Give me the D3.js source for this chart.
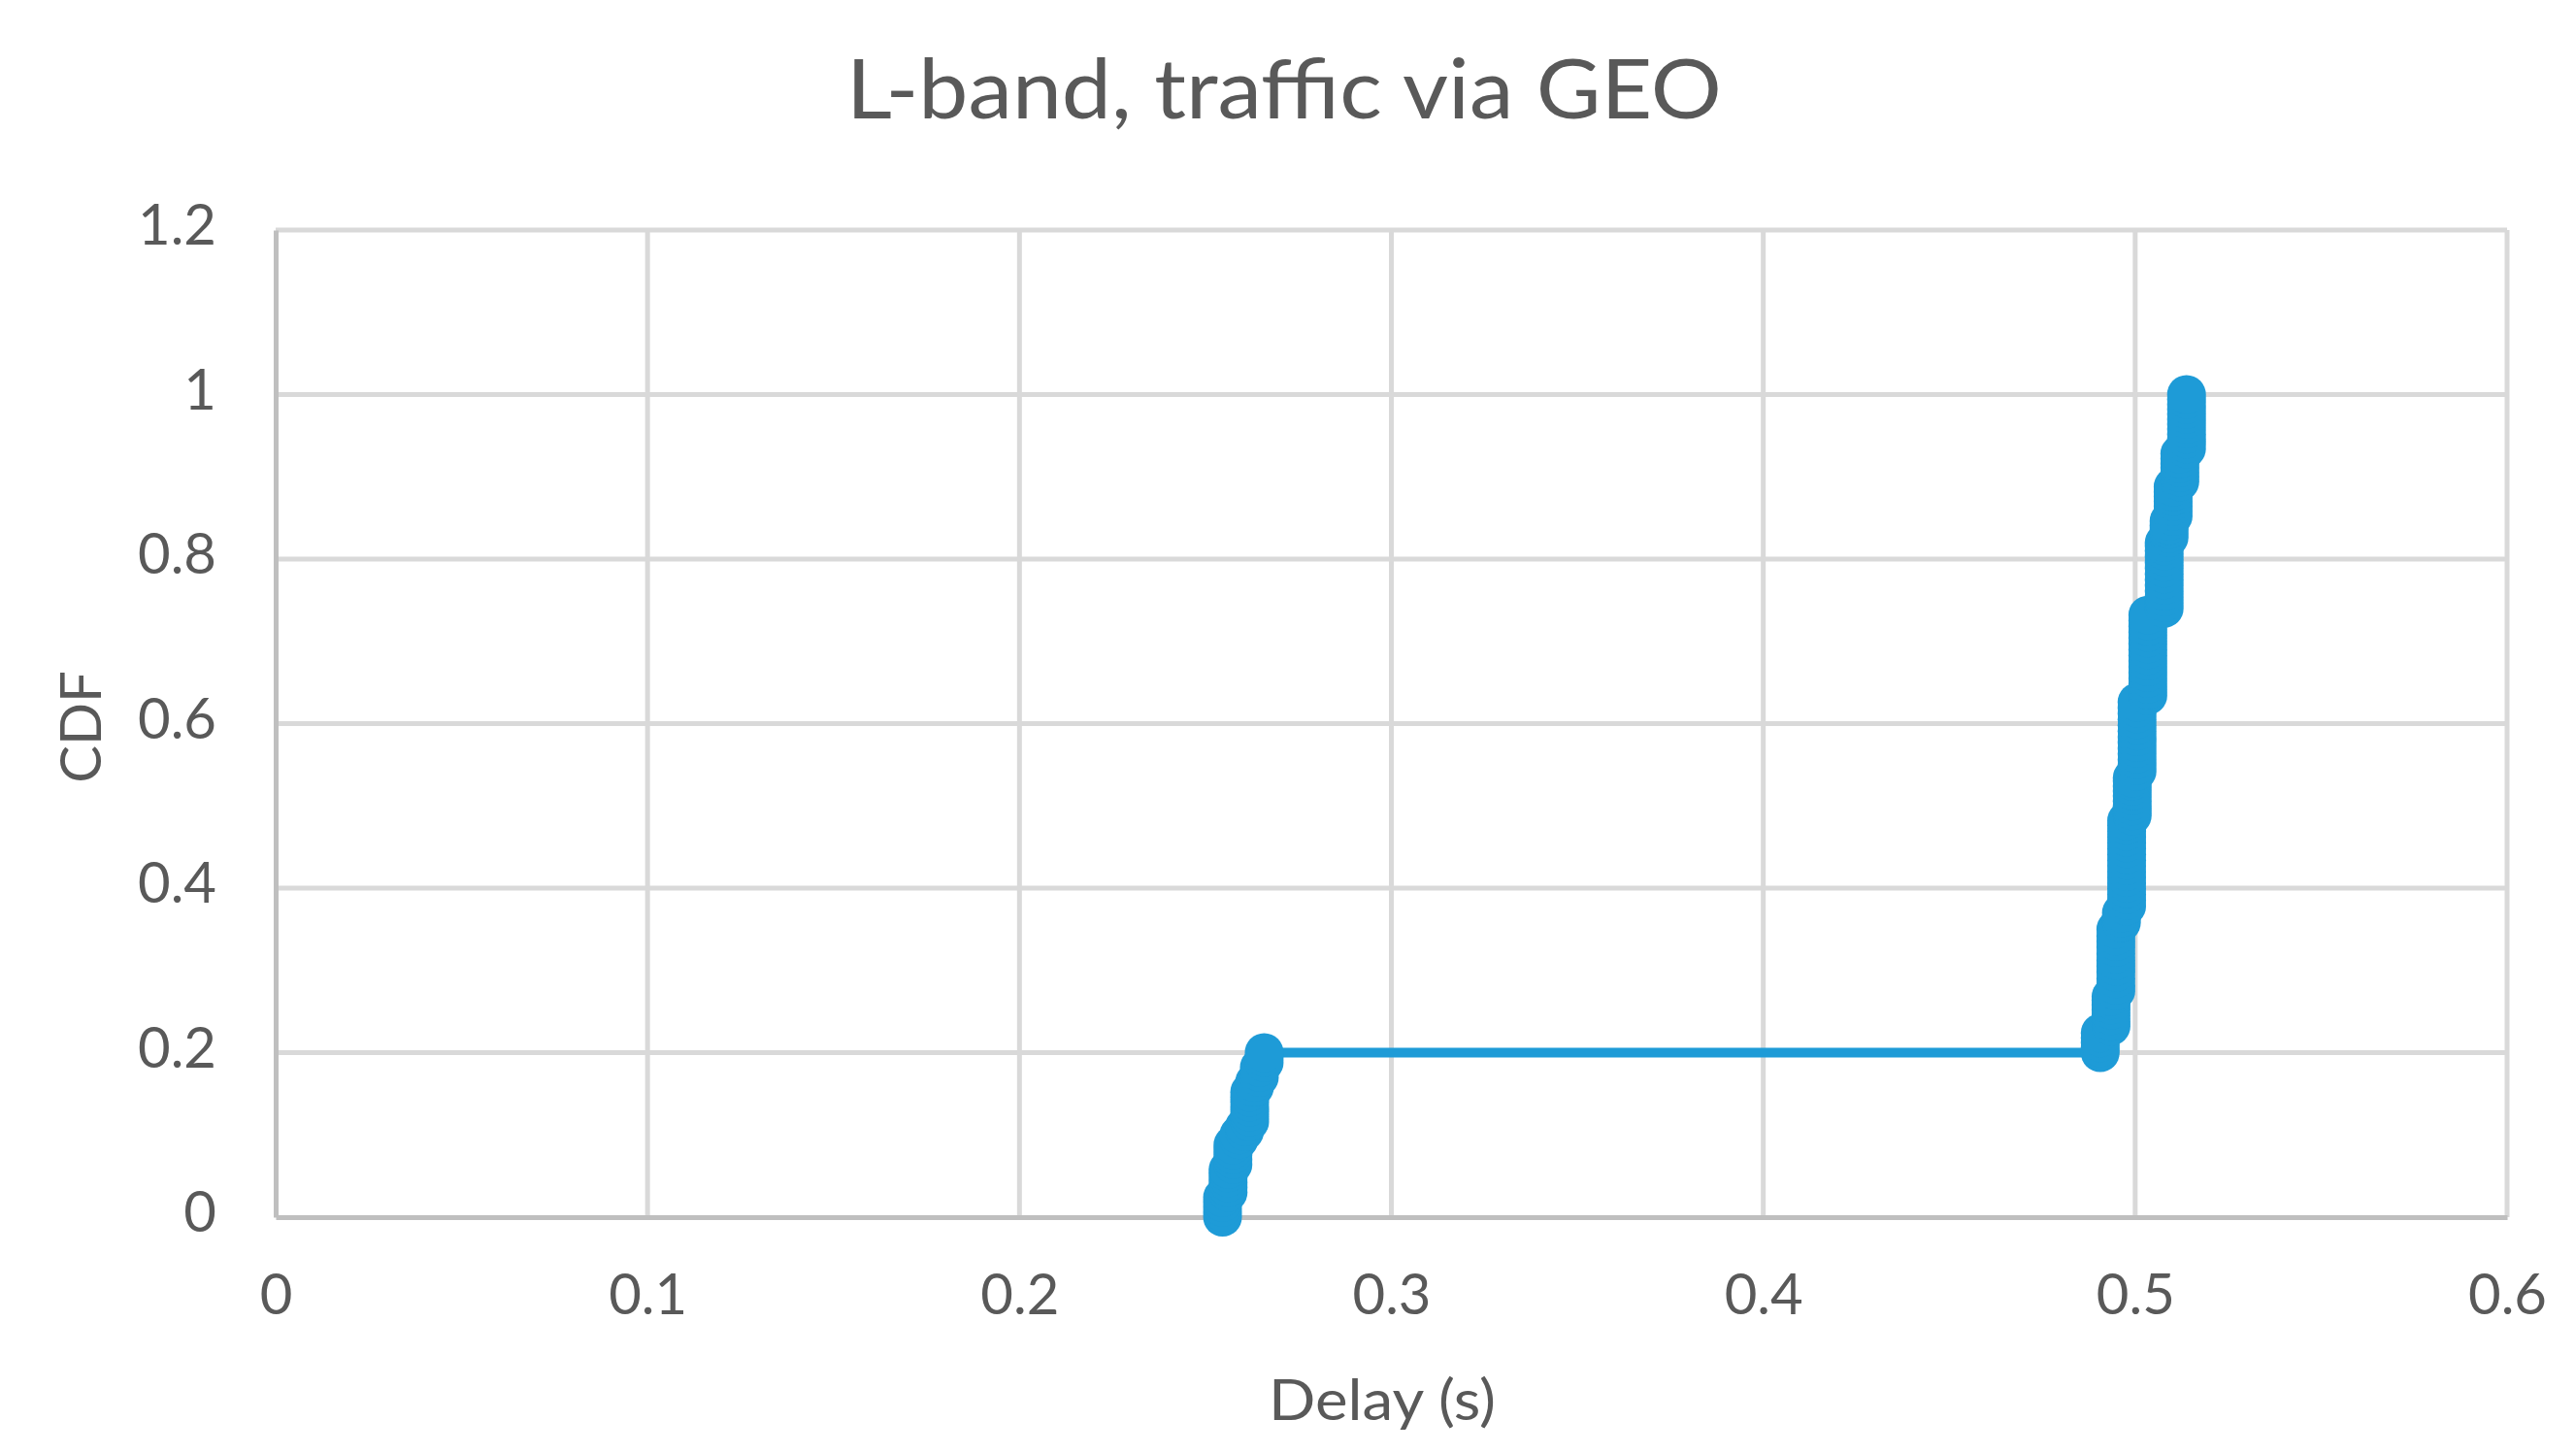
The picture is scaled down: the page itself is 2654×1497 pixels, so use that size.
<!DOCTYPE html>
<html>
<head>
<meta charset="utf-8">
<script src="https://cdn.jsdelivr.net/npm/d3@7"></script>
<style>
  html, body { margin: 0; padding: 0; background: #ffffff; }
  svg { display: block; }
</style>
</head>
<body>
<script>
// ---- data ----
const chartTitle = "L-band, traffic via GEO";
const xAxisTitle = "Delay (s)";
const yAxisTitle = "CDF";
const xTicks = [0, 0.1, 0.2, 0.3, 0.4, 0.5, 0.6];
const yTicks = [0, 0.2, 0.4, 0.6, 0.8, 1, 1.2];
const xTickLabels = ["0", "0.1", "0.2", "0.3", "0.4", "0.5", "0.6"];
const yTickLabels = ["0", "0.2", "0.4", "0.6", "0.8", "1", "1.2"];

// delay (s) of each CDF sample
const delay = [
  0.2546, 0.2546, 0.2546, 0.2546, 0.2546,
  0.2561, 0.2561, 0.2561, 0.2561, 0.2561, 0.2561,
  0.2574, 0.2574, 0.2574, 0.2574, 0.2574,
  0.2590, 0.2590,
  0.2605, 0.2605,
  0.2619, 0.2619, 0.2619, 0.2619, 0.2619, 0.2619, 0.2619,
  0.2632, 0.2632,
  0.2645, 0.2645, 0.2645,
  0.2658, 0.2658, 0.2658,
  0.4906, 0.4906, 0.4906, 0.4906, 0.4906,
  0.4935, 0.4935, 0.4935, 0.4935, 0.4935, 0.4935, 0.4935,
  0.4948, 0.4948, 0.4948, 0.4948, 0.4948, 0.4948, 0.4948, 0.4948, 0.4948, 0.4948, 0.4948,
  0.4963, 0.4963, 0.4963,
  0.4977, 0.4977, 0.4977, 0.4977, 0.4977, 0.4977, 0.4977, 0.4977,
  0.4977, 0.4977, 0.4977, 0.4977, 0.4977, 0.4977, 0.4977, 0.4977,
  0.4992, 0.4992, 0.4992, 0.4992, 0.4992, 0.4992, 0.4992, 0.4992, 0.4992,
  0.5005, 0.5005, 0.5005, 0.5005, 0.5005, 0.5005, 0.5005, 0.5005, 0.5005, 0.5005, 0.5005, 0.5005, 0.5005,
  0.5034, 0.5034, 0.5034, 0.5034, 0.5034, 0.5034, 0.5034, 0.5034,
  0.5034, 0.5034, 0.5034, 0.5034, 0.5034, 0.5034, 0.5034,
  0.5078, 0.5078, 0.5078, 0.5078, 0.5078, 0.5078, 0.5078, 0.5078, 0.5078, 0.5078, 0.5078, 0.5078, 0.5078,
  0.5091, 0.5091, 0.5091, 0.5091, 0.5091,
  0.5102, 0.5102, 0.5102, 0.5102, 0.5102, 0.5102, 0.5102,
  0.5120, 0.5120, 0.5120, 0.5120, 0.5120, 0.5120, 0.5120,
  0.5138, 0.5138, 0.5138, 0.5138, 0.5138, 0.5138, 0.5138, 0.5138, 0.5138, 0.5138, 0.5138, 0.5138
];
// cumulative probability of each sample
const cdf = [
  0.000, 0.006, 0.012, 0.018, 0.024,
  0.030, 0.036, 0.042, 0.048, 0.054, 0.058,
  0.064, 0.070, 0.076, 0.082, 0.088,
  0.094, 0.100,
  0.104, 0.110,
  0.116, 0.122, 0.128, 0.134, 0.140, 0.146, 0.152,
  0.158, 0.164,
  0.170, 0.176, 0.182,
  0.188, 0.194, 0.200,
  0.200, 0.206, 0.212, 0.218, 0.224,
  0.232, 0.238, 0.245, 0.252, 0.258, 0.264, 0.268,
  0.275, 0.282, 0.290, 0.298, 0.305, 0.312, 0.320, 0.328, 0.335, 0.342, 0.350,
  0.358, 0.364, 0.370,
  0.378, 0.385, 0.392, 0.399, 0.406, 0.413, 0.420, 0.427,
  0.434, 0.441, 0.448, 0.455, 0.462, 0.469, 0.476, 0.482,
  0.488, 0.494, 0.500, 0.506, 0.512, 0.518, 0.524, 0.530, 0.534,
  0.542, 0.549, 0.556, 0.563, 0.570, 0.577, 0.584, 0.591, 0.598, 0.605, 0.612, 0.619, 0.626,
  0.634, 0.641, 0.648, 0.655, 0.662, 0.669, 0.676, 0.683,
  0.690, 0.697, 0.704, 0.711, 0.718, 0.725, 0.732,
  0.740, 0.747, 0.754, 0.761, 0.768, 0.775, 0.782, 0.789, 0.796, 0.803, 0.810, 0.816, 0.820,
  0.826, 0.831, 0.836, 0.841, 0.846,
  0.852, 0.858, 0.864, 0.870, 0.876, 0.882, 0.888,
  0.894, 0.900, 0.905, 0.911, 0.916, 0.922, 0.928,
  0.934, 0.940, 0.946, 0.952, 0.958, 0.964, 0.970, 0.976, 0.982, 0.988, 0.994, 1.000
];

// ---- layout ----
const W = 2654, H = 1497;
const margin = { left: 284, right: 71, top: 237, bottom: 243 };
const color = "#1e9bd7";
const textColor = "#595959";
const font = "Lato, 'Open Sans', sans-serif";

const svg = d3.select("body").append("svg")
  .attr("width", W).attr("height", H);

const x = d3.scaleLinear().domain([0, 0.6]).range([margin.left, W - margin.right]);
const y = d3.scaleLinear().domain([0, 1.2]).range([H - margin.bottom, margin.top]);

// gridlines
const grid = svg.append("g");
grid.selectAll("line.h").data(yTicks.filter(d => d > 0)).join("line")
  .attr("x1", x(0)).attr("x2", x(0.6))
  .attr("y1", d => y(d)).attr("y2", d => y(d))
  .attr("stroke", "#d9d9d9").attr("stroke-width", 5);
grid.selectAll("line.v").data(xTicks.filter(d => d > 0)).join("line")
  .attr("x1", d => x(d)).attr("x2", d => x(d))
  .attr("y1", y(0)).attr("y2", y(1.2))
  .attr("stroke", "#d9d9d9").attr("stroke-width", 5);

// axes (no tick marks)
const xAxis = d3.axisBottom(x).tickValues(xTicks).tickSize(0)
  .tickFormat((d, i) => xTickLabels[i]).tickPadding(0);
const yAxis = d3.axisLeft(y).tickValues(yTicks).tickSize(0)
  .tickFormat((d, i) => yTickLabels[i]).tickPadding(0);

const gx = svg.append("g").attr("transform", `translate(0,${y(0)})`).call(xAxis);
gx.select(".domain").attr("stroke", "#bfbfbf").attr("stroke-width", 5);
gx.selectAll("text")
  .attr("font-family", font).attr("font-size", 58).attr("fill", textColor)
  .attr("y", 100).attr("dy", null);

const gy = svg.append("g").attr("transform", `translate(${x(0)},0)`).call(yAxis);
gy.select(".domain").attr("stroke", "#bfbfbf").attr("stroke-width", 5);
gy.selectAll("text")
  .attr("font-family", font).attr("font-size", 58).attr("fill", textColor)
  .attr("x", -61).attr("dy", 14.5);

// series
const pts = delay.map((d, i) => [d, cdf[i]]);
svg.append("path")
  .datum(pts)
  .attr("fill", "none").attr("stroke", color).attr("stroke-width", 10)
  .attr("stroke-linejoin", "round")
  .attr("d", d3.line().x(d => x(d[0])).y(d => y(d[1])));
svg.append("g").selectAll("circle").data(pts).join("circle")
  .attr("cx", d => x(d[0])).attr("cy", d => y(d[1])).attr("r", 20)
  .attr("fill", color);

// titles
svg.append("text")
  .attr("x", 1323).attr("y", 122).attr("text-anchor", "middle")
  .attr("font-family", font).attr("font-size", 85).attr("fill", textColor)
  .attr("textLength", 902).attr("lengthAdjust", "spacingAndGlyphs")
  .text(chartTitle);

svg.append("text")
  .attr("x", 1424).attr("y", 1463).attr("text-anchor", "middle")
  .attr("font-family", font).attr("font-size", 58).attr("fill", textColor)
  .attr("textLength", 234).attr("lengthAdjust", "spacingAndGlyphs")
  .text(xAxisTitle);

svg.append("text")
  .attr("transform", `translate(104,749) rotate(-90)`).attr("text-anchor", "middle")
  .attr("font-family", font).attr("font-size", 58).attr("fill", textColor)
  .text(yAxisTitle);
</script>
</body>
</html>
